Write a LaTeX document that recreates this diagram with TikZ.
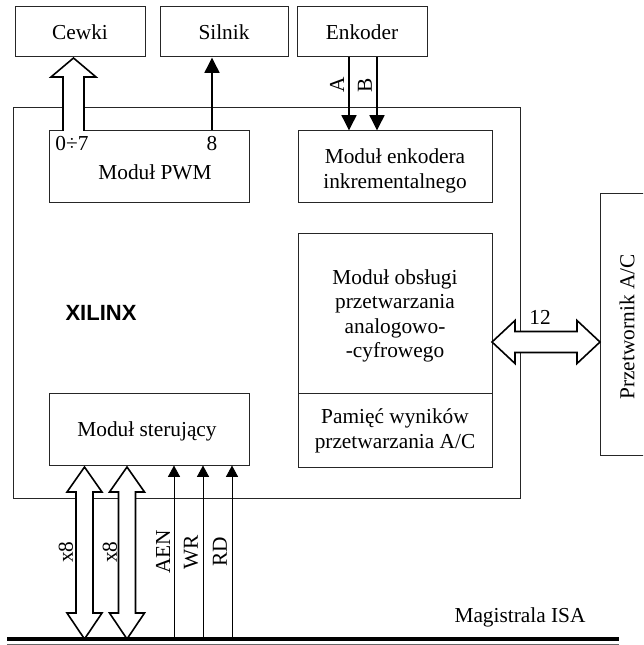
\documentclass[tikz,border=0pt]{standalone}
\usepackage{fontspec}
\setmainfont{Liberation Serif}
\newfontfamily\arialfont{Liberation Sans}
\usetikzlibrary{arrows.meta,calc,fit}
\newcommand\hollowup[6]{% x, tail y, tip y, shaft half, head half, head length (tip above tail)
  \draw[hollow] (#1-#4,#2) -- (#1-#4,#3+#6) -- (#1-#5,#3+#6) -- (#1,#3) -- (#1+#5,#3+#6) -- (#1+#4,#3+#6) -- (#1+#4,#2);}
\begin{document}
\begin{tikzpicture}[x=0.75pt,y=-0.75pt,
  box/.style={draw=black!85, line width=0.75pt, inner sep=0pt},
  lbl/.style={font=\fontsize{16}{18.4}\selectfont, align=center, inner sep=0pt},
  hollow/.style={draw=black, fill=white, line width=1.2pt, line join=miter},
  sig/.style={line width=1.9pt, -{Triangle[length=11.5pt,width=11pt]}},
  thinsig/.style={line width=0.7pt, -{Triangle[length=8.5pt,width=9pt]}}]
\useasboundingbox (0,0) rectangle (643,645);
\clip (0,0) rectangle (643,645);

% outer boxes
\node[box, fit={(15,7) (145,57)}] (cewki) {};
\node[lbl] (cewkit) at (cewki.center) {Cewki};
\node[box, fit={(160,7) (288,57)}] (silnik) {};
\node[lbl] (silnikt) at (silnik.center) {Silnik};
\node[box, fit={(297,7) (427,57)}] (enkoder) {};
\node[lbl] (enkodert) at (enkoder.center) {Enkoder};
\node[box, fit={(13,108) (520,498)}] (xilinx) {};
\node[box, fit={(600,194) (670,455)}] (adc) {};
\node[lbl, rotate=90] (adct) at (627,327) {Przetwornik A/C};

% inner modules
\node[box, fit={(49,131) (249,203)}] (pwm) {};
\node[lbl] (pwmt) at (155,172) {Modu\l{} PWM};
\node[lbl] (p07) at (72,144) {0÷7};
\node[lbl] (p8) at (212,144) {8};
\node[box, fit={(298,131) (492,203)}] (enc) {};
\node[lbl] (enct) at (395,171) {Modu\l{} enkodera\\inkrementalnego};
\node[box, fit={(298,233) (492,393)}] (adcm) {};
\node[lbl] (adcmt) at (395,316) {Modu\l{} obs\l{}ugi\\przetwarzania\\analogowo-\\-cyfrowego};
\node[box, fit={(298,393) (492,467)}] (mem) {};
\node[lbl] (memt) at (395,431) {Pami\k{e}\'c wynik\'ow\\przetwarzania A/C};
\node[box, fit={(49,393) (249,465)}] (ster) {};
\node[lbl] (stert) at (147,431) {Modu\l{} steruj\k{a}cy};
\node[font=\arialfont\bfseries\fontsize{16.5}{18}\selectfont, inner sep=0pt] (xl) at (101,313) {XILINX};

% coordinates for signal lines
\coordinate (xs) at (212,0);
\coordinate (xa) at (349,0);
\coordinate (xb) at (377,0);
\coordinate (xaen) at (174,0);
\coordinate (xwr) at (203,0);
\coordinate (xrd) at (232,0);
\coordinate (bus) at (0,639);

% signal arrows
\draw[sig] (pwm.north -| xs) -- (silnik.south -| xs);
\draw[sig] (enkoder.south -| xa) -- (enc.north -| xa);
\draw[sig] (enkoder.south -| xb) -- (enc.north -| xb);
\node[lbl, rotate=90] (la) at (337,85) {A};
\node[lbl, rotate=90] (lb) at (365,85) {B};

\draw[thinsig] (bus -| xaen) -- (ster.south -| xaen);
\draw[thinsig] (bus -| xwr) -- (ster.south -| xwr);
\draw[thinsig] (bus -| xrd) -- (ster.south -| xrd);
\node[lbl, rotate=90] (laen) at (163,552) {AEN};
\node[lbl, rotate=90] (lwr) at (191,552) {WR};
\node[lbl, rotate=90] (lrd) at (220,552) {RD};

% hollow bus arrows
\hollowup{73.5}{131}{58}{10.5}{22.5}{19}
\draw[hollow] (84.5,467) -- (102,492) -- (93,492) -- (93,613) -- (102,613) -- (84.5,639) -- (67,613) -- (76,613) -- (76,492) -- (67,492) -- cycle;
\draw[hollow] (127,467) -- (144.5,492) -- (135.5,492) -- (135.5,613) -- (144.5,613) -- (127,639) -- (109.5,613) -- (118.5,613) -- (118.5,492) -- (109.5,492) -- cycle;
\node[lbl, rotate=90] (lx1) at (66,552) {x8};
\node[lbl, rotate=90] (lx2) at (110,552) {x8};

% 12-bit double arrow
\draw[hollow] (492,342) -- (515,320.5) -- (515,331.5) -- (577,331.5) -- (577,320.5) -- (600,342) -- (577,363.5) -- (577,352.5) -- (515,352.5) -- (515,363.5) -- cycle;
\node[lbl] (l12) at (540,317) {12};

% ISA bus
\draw[line width=2.4pt] (7,639) -- (619,639);
\draw[line width=0.6pt, black!60] (7,644.3) -- (619,644.3);
\node[lbl] (isa) at (520,617) {Magistrala ISA};
\end{tikzpicture}
\end{document}
